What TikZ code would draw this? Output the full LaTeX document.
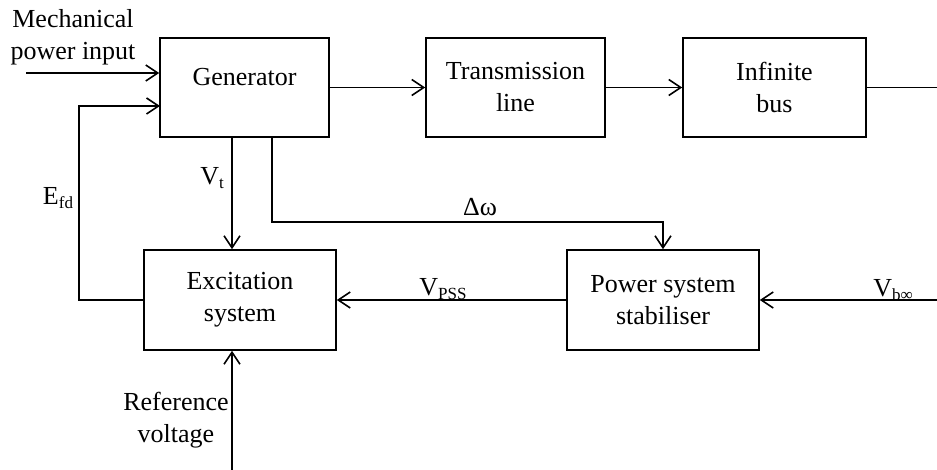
\documentclass[tikz,border=0pt]{standalone}
\usepackage{fontspec}
\setmainfont{Liberation Serif}
\usetikzlibrary{arrows.meta}
\newcommand{\lowtxt}[1]{\raisebox{-0.3ex}{\fontsize{8.5}{10}\selectfont #1}}

\begin{document}
\begin{tikzpicture}[x=0.5pt,y=-0.5pt,
  font=\fontsize{13}{16}\selectfont,
  block/.style={draw,line width=0.8pt,inner sep=0pt,align=center},
  sig/.style={line width=0.8pt,-{Straight Barb[length=6pt,width=8pt]}}]
  \useasboundingbox (0,0) rectangle (937,470);

  % blocks
  \node[block,minimum width=84.5pt,minimum height=49.5pt] (gen) at (244.5,87.5) {};
  \node (gentxt) at (244.5,77) {Generator};
  \node[block,minimum width=89.5pt,minimum height=49.5pt] (tline) at (515.5,87.5) {Transmission\\line};
  \node[block,minimum width=91.5pt,minimum height=49.5pt] (ibus) at (774.5,87.5) {Infinite\\bus};
  \node[block,minimum width=96pt,minimum height=50pt] (exc) at (240,300) {Excitation\\system};
  \node[block,minimum width=96pt,minimum height=50pt] (pss) at (663,300) {Power system\\stabiliser};

  \coordinate (mech_in) at (26,73);
  \coordinate (gen_fd) at (160,106);
  \coordinate (efd_corner) at (79,106);
  \coordinate (vt_top) at (232,137);
  \coordinate (dw_top) at (272,137);
  \coordinate (dw_turn) at (272,222);
  \coordinate (bus_out) at (937,87.5);
  \coordinate (vb_in) at (937,300);
  \coordinate (vref) at (232,470);

  % forward path
  \draw[sig] (mech_in) -- (mech_in -| gen.west);
  \draw[sig] (gen.east) -- (tline.west);
  \draw[sig] (tline.east) -- (ibus.west);
  \draw[line width=0.8pt] (ibus.east) -- (bus_out);

  % feedback loops
  \draw[sig] (exc.west) -| (efd_corner) -- (gen_fd);
  \draw[sig] (vt_top) -- (vt_top |- exc.north);
  \draw[sig] (dw_top) -- (dw_turn) -| (pss.north);
  \draw[sig] (pss.west) -- (exc.east);
  \draw[sig] (vb_in) -- (pss.east);
  \draw[sig] (vref) -- (vref |- exc.south);

  % signal names
  \node[align=center] (mech) at (73,37) {Mechanical\\power input};
  \node (efd) at (58,198) {E\lowtxt{fd}};
  \node (vt) at (212,178) {V\lowtxt{t}};
  \node (dw) at (480,207) {Δω};
  \node (vpss) at (443,289) {V\lowtxt{PSS}};
  \node (vbinf) at (893,290) {V\lowtxt{b∞}};
  \node[align=center] (ref) at (176,420) {Reference\\voltage};
\end{tikzpicture}
\end{document}
